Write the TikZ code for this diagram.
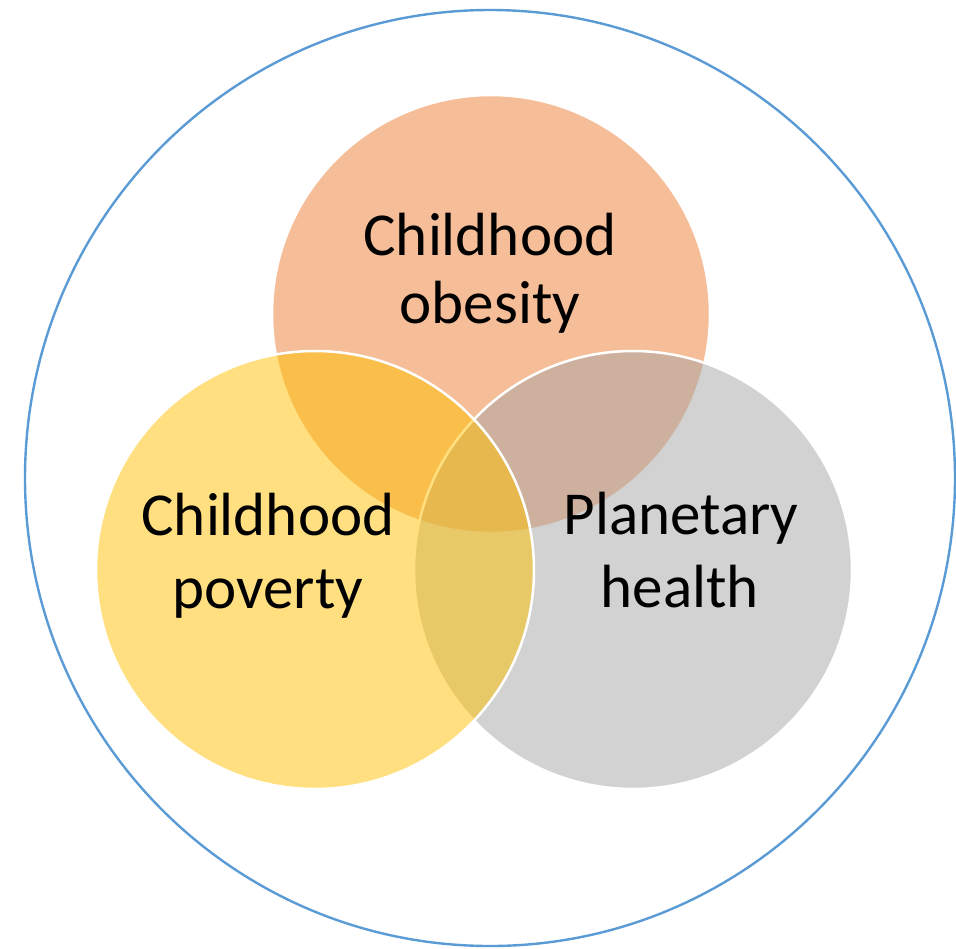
\documentclass[tikz,border=0pt]{standalone}
\usepackage{fontspec}
\setmainfont{Carlito}
\definecolor{outerblue}{HTML}{5B9BD5}
\definecolor{vorange}{HTML}{ED7D31}
\definecolor{vyellow}{HTML}{FFC000}
\definecolor{vgray}{HTML}{A5A5A5}
\begin{document}
\begin{tikzpicture}[x=1pt,y=-1pt,
  venn/.style={draw=white,line width=2.5pt,fill opacity=0.5},
  lbl/.style={anchor=base,inner sep=0pt,font=\fontsize{61}{69}\selectfont,text=black}]
\useasboundingbox (0,0) rectangle (956,948);
\draw[outerblue,line width=2.4pt] (490,478) ellipse [x radius=465, y radius=468];
\draw[venn,fill=vorange] (491,314) circle [radius=219];
\draw[venn,fill=vgray] (633,570) circle [radius=219];
\draw[venn,fill=vyellow] (315,570) circle [radius=219];
\node[lbl] (ob1) at (490,255) {Childhood};
\node[lbl] (ob2) at (490,323) {obesity};
\node[lbl] (pv1) at (268,535) {Childhood};
\node[lbl] (pv2) at (268,608) {poverty};
\node[lbl] (ph1) at (681,534) {Planetary};
\node[lbl] (ph2) at (680,607) {health};
\end{tikzpicture}
\end{document}
